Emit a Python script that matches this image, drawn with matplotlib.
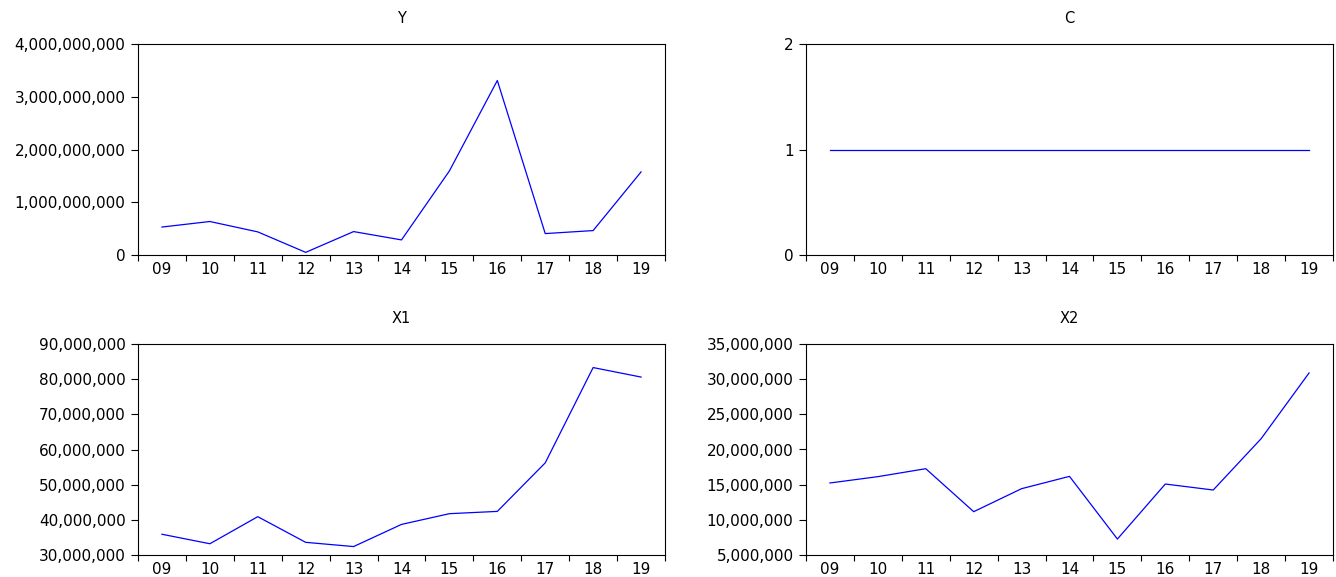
import matplotlib
matplotlib.use("Agg")
import matplotlib.pyplot as plt
from matplotlib.ticker import FixedLocator, FuncFormatter

plt.rcParams['font.family'] = ['DejaVu Sans']

years = ['09', '10', '11', '12', '13', '14', '15', '16', '17', '18', '19']

# series
y_vals = [0.53e9, 0.635e9, 0.438e9, 0.05e9, 0.444e9, 0.286e9,
          1.594e9, 3.308e9, 0.406e9, 0.463e9, 1.575e9]
c_vals = [1] * 11
x1_vals = [35.9e6, 33.2e6, 40.9e6, 33.6e6, 32.4e6, 38.7e6,
           41.75e6, 42.4e6, 56.2e6, 83.3e6, 80.6e6]
x2_vals = [15.24e6, 16.14e6, 17.27e6, 11.16e6, 14.43e6, 16.18e6,
           7.27e6, 15.09e6, 14.24e6, 21.54e6, 30.88e6]

panels = [
    ("Y", y_vals, (0, 4e9), [0, 1e9, 2e9, 3e9, 4e9]),
    ("C", c_vals, (0, 2), [0, 1, 2]),
    ("X1", x1_vals, (30e6, 90e6), [30e6, 40e6, 50e6, 60e6, 70e6, 80e6, 90e6]),
    ("X2", x2_vals, (5e6, 35e6), [5e6, 10e6, 15e6, 20e6, 25e6, 30e6, 35e6]),
]

fig = plt.figure(figsize=(13.36, 5.77), dpi=100)

W, H = 1336., 577.
boxes = [(138, 44), (806, 44), (138, 344), (806, 344)]  # left, top in px
aw, ah = 527, 211

for (title, vals, ylim, yticks), (lx, ty) in zip(panels, boxes):
    ax = fig.add_axes([lx / W, 1 - (ty + ah) / H, aw / W, ah / H])
    xs = [i + 0.5 for i in range(len(years))]
    ax.plot(xs, vals, color='#0000ff', lw=0.9)
    ax.set_xlim(0, len(years))
    ax.set_ylim(*ylim)
    # ticks sit between the years, labels in the middle
    ax.xaxis.set_major_locator(FixedLocator(range(len(years) + 1)))
    ax.xaxis.set_major_formatter(FuncFormatter(lambda v, p: ''))
    ax.xaxis.set_minor_locator(FixedLocator(xs))
    ax.set_xticklabels(years, minor=True)
    ax.tick_params(axis='x', which='major', direction='out', length=4, width=0.8)
    ax.tick_params(axis='x', which='minor', length=0, pad=5, labelsize=11)
    ax.set_yticks(yticks)
    ax.yaxis.set_major_formatter(FuncFormatter(lambda v, p: '{:,.0f}'.format(v)))
    ax.tick_params(axis='y', direction='out', length=5, width=0.8, pad=4, labelsize=11)
    for s in ax.spines.values():
        s.set_linewidth(0.8)
    ax.set_title(title, fontsize=10.5, pad=15)

fig.savefig("out.png", dpi=100)
